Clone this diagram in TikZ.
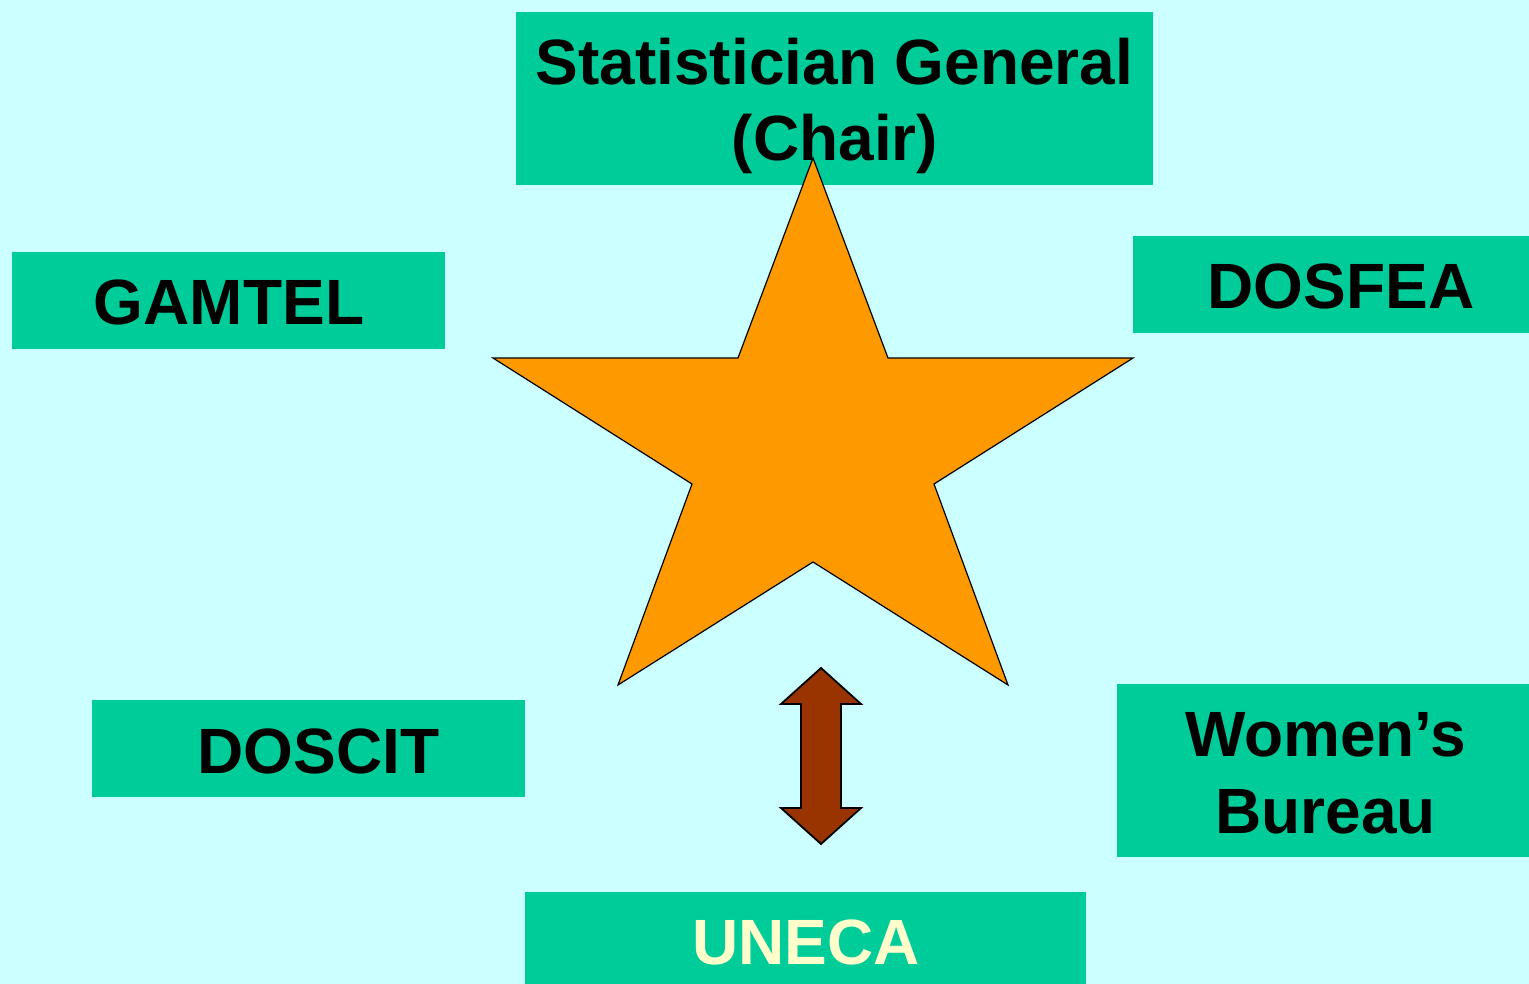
\documentclass[tikz,border=0pt]{standalone}
\usepackage{fontspec}
\setmainfont{Liberation Sans}
\definecolor{bgc}{HTML}{CCFFFF}
\definecolor{boxc}{HTML}{00CC99}
\definecolor{starc}{HTML}{FF9900}
\definecolor{arrc}{HTML}{993300}
\definecolor{txtyel}{HTML}{FFFFCC}
\tikzset{
  box/.style={fill=boxc, draw=none, inner sep=0pt, outer sep=0pt, rectangle},
  lbl/.style={inner sep=0pt, outer sep=0pt, anchor=base, font=\fontsize{64}{76}\selectfont\bfseries, text=black},
  starstyle/.style={fill=starc, draw=black, line width=1.2pt, line join=miter},
  arrstyle/.style={fill=arrc, draw=black, line width=1.8pt, line join=miter}
}
\begin{document}
\begin{tikzpicture}[x=1pt,y=-1pt]
\useasboundingbox (0,0) rectangle (1529,984);
\fill[bgc] (0,0) rectangle (1529,984);
% boxes
\node[box, minimum width=637pt, minimum height=173pt] (sg) at (834.5,98.5) {};
\node[box, minimum width=433pt, minimum height=97pt] (gamtel) at (228.5,300.5) {};
\node[box, minimum width=396pt, minimum height=97pt] (dosfea) at (1331,284.5) {};
\node[box, minimum width=433pt, minimum height=97pt] (doscit) at (308.5,748.5) {};
\node[box, minimum width=412pt, minimum height=173pt] (women) at (1323,770.5) {};
\node[box, minimum width=561pt, minimum height=100pt] (uneca) at (805.5,942) {};
% texts
\node[lbl] (sg1) at (834.5,85) {Statistician General};
\node[lbl] (sg2) at (835,161) {(Chair)};
\node[lbl] (gamtelt) at (229,325) {GAMTEL};
\node[lbl] (dosfeat) at (1341,309) {DOSFEA};
\node[lbl] (doscitt) at (318.5,773) {DOSCIT};
\node[lbl] (women1) at (1325.5,756) {Women’s};
\node[lbl] (women2) at (1325.5,833) {Bureau};
\node[lbl, text=txtyel] (unecat) at (806,964) {UNECA};
% star
\draw[starstyle] (813,158) -- (888,358) -- (1133,358) -- (934,484) -- (1008,685)
  -- (813,562) -- (618,685) -- (692,484) -- (493,358) -- (738,358) -- cycle;
% double arrow
\draw[arrstyle] (821,668) -- (861,704) -- (841,704) -- (841,808) -- (861,808)
  -- (821,844) -- (781,808) -- (801,808) -- (801,704) -- (781,704) -- cycle;
\end{tikzpicture}
\end{document}
